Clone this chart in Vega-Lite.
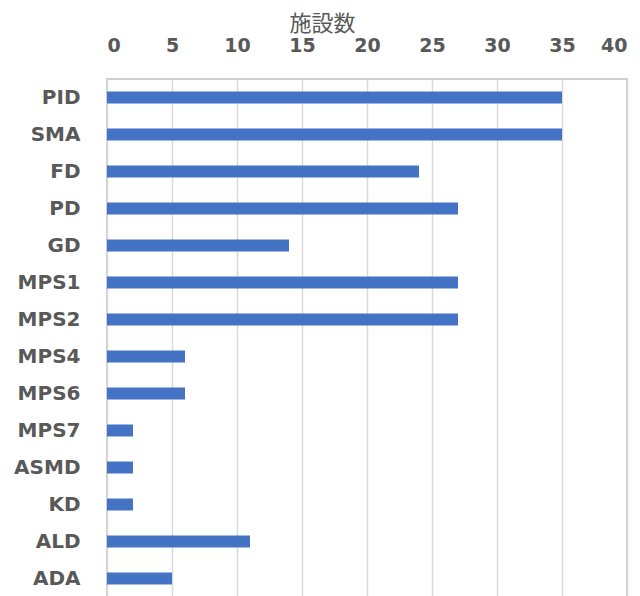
{
  "$schema": "https://vega.github.io/schema/vega-lite/v6.json",
  "autosize": "none",
  "width": 520,
  "height": 518,
  "padding": {"left": 107, "top": 79, "right": 13, "bottom": 0},
  "background": "white",
  "config": {"view": {"stroke": "#bfbfbf", "strokeWidth": 1.5}},
  "data": {"values": [
    {"disease": "PID", "count": 35},
    {"disease": "SMA", "count": 35},
    {"disease": "FD", "count": 24},
    {"disease": "PD", "count": 27},
    {"disease": "GD", "count": 14},
    {"disease": "MPS1", "count": 27},
    {"disease": "MPS2", "count": 27},
    {"disease": "MPS4", "count": 6},
    {"disease": "MPS6", "count": 6},
    {"disease": "MPS7", "count": 2},
    {"disease": "ASMD", "count": 2},
    {"disease": "KD", "count": 2},
    {"disease": "ALD", "count": 11},
    {"disease": "ADA", "count": 5}
  ]},
  "mark": {"type": "bar", "color": "#4472C4", "size": 12},
  "encoding": {
    "y": {
      "field": "disease", "type": "nominal", "sort": null,
      "scale": {"paddingInner": 0, "paddingOuter": 0},
      "axis": {
        "title": null, "domain": false, "ticks": false, "grid": false,
        "labelFont": "DejaVu Sans", "labelFontSize": 20, "labelFontWeight": "bold",
        "labelColor": "#595959", "labelPadding": 27
      }
    },
    "x": {
      "field": "count", "type": "quantitative",
      "scale": {"domain": [0, 40], "nice": false},
      "axis": {
        "orient": "top", "values": [0, 5, 10, 15, 20, 25, 30, 35, 40],
        "domain": false, "ticks": false, "grid": true, "gridColor": "#d9d9d9", "gridWidth": 1.5,
        "labelFont": "DejaVu Sans", "labelFontSize": 19, "labelFontWeight": "bold",
        "labelColor": "#595959", "labelPadding": 24,
        "title": "施設数", "titleFont": "Noto Sans CJK JP", "titleFontSize": 22,
        "titleFontWeight": "normal", "titleColor": "#595959",
        "titleX": 215, "titleY": -44, "titleAlign": "center", "titleBaseline": "bottom"
      }
    }
  }
}
